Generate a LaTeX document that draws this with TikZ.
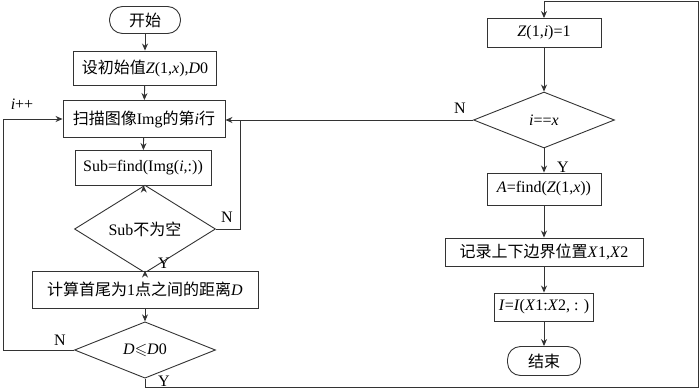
\documentclass[tikz,border=0pt]{standalone}
\usepackage{fontspec}
\usepackage{amssymb}
\setmainfont{Liberation Serif}
\newfontfamily\cjk{Noto Sans CJK SC}
\usetikzlibrary{shapes.geometric,arrows.meta}
\definecolor{ln}{HTML}{333333}
\tikzset{
  every node/.style={font=\fontsize{16}{18}\selectfont},
  proc/.style={draw=ln,line width=0.9pt,rectangle,inner sep=0pt,fill=white},
  term/.style={draw=ln,line width=0.9pt,rectangle,rounded corners=13pt,inner sep=0pt,minimum width=71pt,minimum height=27pt},
  dec/.style={draw=ln,line width=0.9pt,diamond,inner sep=0pt,minimum width=141pt,minimum height=56pt},
  conn/.style={draw=ln,line width=0.9pt,-{Stealth[length=7pt,width=6pt]}},
  plain/.style={draw=ln,line width=0.9pt},
  lbl/.style={inner sep=1pt}
}
\begin{document}
\begin{tikzpicture}[x=1pt,y=-1pt]
\useasboundingbox (0,0) rectangle (700,390);
% left column
\node[term] (start) at (145,20) {{\cjk 开始}};
\node[proc,minimum width=143pt,minimum height=34pt] (init) at (145,68) {{\cjk 设初始值}\textit{Z}(1,\textit{x}),\textit{D}0};
\node[proc,minimum width=162pt,minimum height=37pt] (scan) at (144,119) {{\cjk 扫描图像}Img{\cjk 的第}\textit{i}{\cjk 行}};
\node[proc,minimum width=136pt,minimum height=35pt] (sub) at (143,168) {Sub=find(Img(\textit{i},:))};
\node[dec] (d1) at (145,229) {Sub{\cjk 不为空}};
\node[proc,minimum width=226pt,minimum height=37pt] (calc) at (145,289.5) {{\cjk 计算首尾为}1{\cjk 点之间的距离}\textit{D}};
\node[dec] (d2) at (145,350) {\textit{D}$\leqslant$\textit{D}0};
% right column
\node[proc,minimum width=114pt,minimum height=29pt] (z) at (544,33) {\textit{Z}(1,\textit{i})=1};
\node[dec] (d3) at (544,120) {\textit{i}==\textit{x}};
\node[proc,minimum width=114pt,minimum height=32pt] (a) at (544,189) {\textit{A}=find(\textit{Z}(1,\textit{x}))};
\node[proc,minimum width=198pt,minimum height=28pt] (rec) at (544,252) {{\cjk 记录上下边界位置}\textit{X}1,\textit{X}2};
\node[proc,minimum width=99pt,minimum height=28pt] (ib) at (544,307) {\textit{I}=\textit{I}(\textit{X}1:\textit{X}2, : )};
\node[term,minimum width=73pt,minimum height=29pt] (fin) at (544,361) {{\cjk 结束}};
% coordinates
\coordinate (c1) at (240,229);
\coordinate (c2) at (3,350);
\coordinate (c3) at (145,387);
\coordinate (c4) at (698,387);
\coordinate (c5) at (698,1);
% connectors
\draw[conn] (start) -- (init);
\draw[conn] (init) -- (scan);
\draw[conn] (scan) -- (sub);
\draw[conn] (sub) -- (d1);
\draw[conn] (d1) -- (calc);
\draw[conn] (calc) -- (d2);
\draw[plain] (d1.east) -- (c1) -- (c1 |- d3.west);
\draw[conn] (d3.west) -- (d3.west -| scan.east);
\draw[conn] (d2.west) -- (c2) |- (scan.west);
\draw[conn] (d2.south) -- (c3) -- (c4) -- (c5) -| (z.north);
\draw[conn] (z) -- (d3);
\draw[conn] (d3) -- (a);
\draw[conn] (a) -- (rec);
\draw[conn] (rec) -- (ib);
\draw[conn] (ib) -- (fin);
% labels
\node[lbl] (n1) at (227,217) {N};
\node[lbl] (y1) at (164,263) {Y};
\node[lbl] (n2) at (60,340) {N};
\node[lbl] (y2) at (164,381) {Y};
\node[lbl] (ipp) at (22,104) {\textit{i}++};
\node[lbl] (n3) at (460,108) {N};
\node[lbl] (y3) at (563,167) {Y};
\end{tikzpicture}
\end{document}
